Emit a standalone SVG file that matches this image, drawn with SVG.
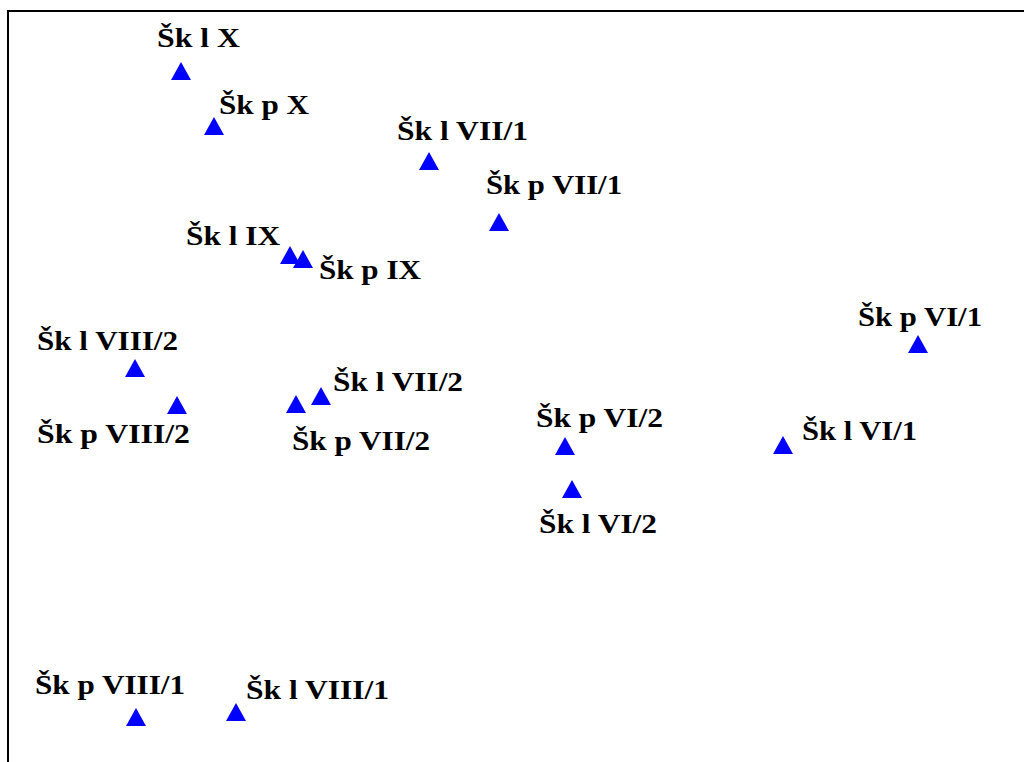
<svg xmlns="http://www.w3.org/2000/svg" xmlns:xlink="http://www.w3.org/1999/xlink" width="1024" height="762" viewBox="0 0 1024 762">
<style>
.lbl{font-family:"Liberation Serif","Times New Roman",serif;font-weight:bold;font-size:27px;fill:#000;}
.tri{fill:#0000FF;}
.frame{stroke:#000;stroke-width:2;fill:none;}
</style>
<defs>
<path id="tri" class="tri" d="M-10,0 L10,0 L0,-18 Z"/>
</defs>
<rect width="1024" height="762" fill="#fff"/>
<path class="frame" d="M8,762 L8,11 L1024,11"/>
<g id="sk-l-X"><use xlink:href="#tri" x="181" y="80"/><text class="lbl" x="157" y="47" textLength="83" lengthAdjust="spacingAndGlyphs">Šk l X</text></g>
<g id="sk-p-X"><use xlink:href="#tri" x="214" y="135"/><text class="lbl" x="219" y="114" textLength="90" lengthAdjust="spacingAndGlyphs">Šk p X</text></g>
<g id="sk-l-VII-1"><use xlink:href="#tri" x="429" y="170"/><text class="lbl" x="397" y="140" textLength="131" lengthAdjust="spacingAndGlyphs">Šk l VII/1</text></g>
<g id="sk-p-VII-1"><use xlink:href="#tri" x="499" y="231"/><text class="lbl" x="486" y="194" textLength="136" lengthAdjust="spacingAndGlyphs">Šk p VII/1</text></g>
<g id="sk-l-IX"><use xlink:href="#tri" x="290" y="264"/><text class="lbl" x="186" y="245" textLength="94" lengthAdjust="spacingAndGlyphs">Šk l IX</text></g>
<g id="sk-p-IX"><use xlink:href="#tri" x="303" y="268"/><text class="lbl" x="319" y="279" textLength="102" lengthAdjust="spacingAndGlyphs">Šk p IX</text></g>
<g id="sk-l-VIII-2"><use xlink:href="#tri" x="135" y="377"/><text class="lbl" x="37" y="350" textLength="141" lengthAdjust="spacingAndGlyphs">Šk l VIII/2</text></g>
<g id="sk-p-VIII-2"><use xlink:href="#tri" x="177" y="414"/><text class="lbl" x="37" y="443" textLength="153" lengthAdjust="spacingAndGlyphs">Šk p VIII/2</text></g>
<g id="sk-l-VII-2"><use xlink:href="#tri" x="321" y="405"/><text class="lbl" x="333" y="391" textLength="130" lengthAdjust="spacingAndGlyphs">Šk l VII/2</text></g>
<g id="sk-p-VII-2"><use xlink:href="#tri" x="296" y="413"/><text class="lbl" x="292" y="450" textLength="138" lengthAdjust="spacingAndGlyphs">Šk p VII/2</text></g>
<g id="sk-p-VI-1"><use xlink:href="#tri" x="918" y="353"/><text class="lbl" x="858" y="326" textLength="124" lengthAdjust="spacingAndGlyphs">Šk p VI/1</text></g>
<g id="sk-p-VI-2"><use xlink:href="#tri" x="565" y="455"/><text class="lbl" x="536" y="427" textLength="127" lengthAdjust="spacingAndGlyphs">Šk p VI/2</text></g>
<g id="sk-l-VI-1"><use xlink:href="#tri" x="783" y="454"/><text class="lbl" x="802" y="440" textLength="115" lengthAdjust="spacingAndGlyphs">Šk l VI/1</text></g>
<g id="sk-l-VI-2"><use xlink:href="#tri" x="572" y="498"/><text class="lbl" x="539" y="533" textLength="118" lengthAdjust="spacingAndGlyphs">Šk l VI/2</text></g>
<g id="sk-p-VIII-1"><use xlink:href="#tri" x="136" y="726"/><text class="lbl" x="35" y="694" textLength="150" lengthAdjust="spacingAndGlyphs">Šk p VIII/1</text></g>
<g id="sk-l-VIII-1"><use xlink:href="#tri" x="236" y="721"/><text class="lbl" x="246" y="699" textLength="143" lengthAdjust="spacingAndGlyphs">Šk l VIII/1</text></g>
</svg>
